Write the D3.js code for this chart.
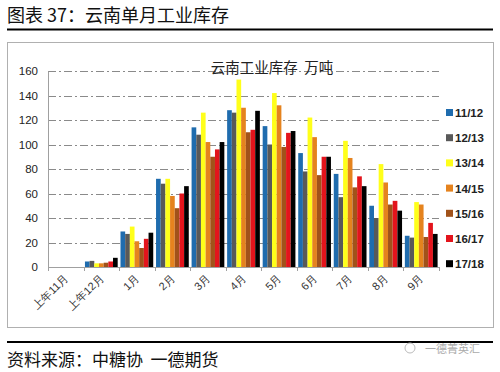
<!DOCTYPE html>
<html>
<head>
<meta charset="utf-8">
<script src="https://d3js.org/d3.v7.min.js"></script>
<style>
body { margin: 0; background: #fff; }
svg { font-family: "Noto Sans CJK SC", "Liberation Sans", sans-serif; }
</style>
</head>
<body>
<div id="chart"></div>
<script>
// categories and series
var months = ["上年11月", "上年12月", "1月", "2月", "3月", "4月", "5月", "6月", "7月", "8月", "9月"];
var seasons = ["11/12", "12/13", "13/14", "14/15", "15/16", "16/17", "17/18"];
var colors = ["#1f6cae", "#595959", "#ffff1a", "#e5831e", "#a1521a", "#e3141c", "#000000"];

var s1112 = [0, 4.5, 29, 72, 114, 128, 115, 93, 76, 50, 25.5];
var s1213 = [0, 5, 27, 68, 108, 126, 100, 78, 57, 40, 24];
var s1314 = [0, 3, 33, 72, 126, 153, 142, 122, 103, 84, 53];
var s1415 = [0, 3, 21, 58, 102, 130, 132, 106, 89, 69, 51];
var s1516 = [0, 3.5, 15.5, 48, 90, 110, 98, 75, 65, 51, 24.5];
var s1617 = [0, 4.5, 23, 60, 96, 112, 109.5, 90, 74, 54, 36];
var s1718 = [0, 7.5, 28, 66, 102, 127.5, 111, 90, 66, 46, 27];
var series = [s1112, s1213, s1314, s1415, s1516, s1617, s1718];

var yTicks = [0, 20, 40, 60, 80, 100, 120, 140, 160];

var W = 500, H = 372;
var svg = d3.select("#chart").append("svg")
    .attr("width", W)
    .attr("height", H);

// page title
svg.append("text")
    .attr("x", 7).attr("y", 22)
    .attr("font-size", 18)
    .attr("fill", "#111")
    .text("图表 37：云南单月工业库存");
svg.append("line")
    .attr("x1", 7).attr("x2", 493).attr("y1", 29.5).attr("y2", 29.5)
    .attr("stroke", "#000").attr("stroke-width", 2);

// chart box
svg.append("rect")
    .attr("x", 7.5).attr("y", 42.5).attr("width", 486).attr("height", 285)
    .attr("fill", "none").attr("stroke", "#b0b0b0").attr("stroke-width", 1);

var plotLeft = 48, plotRight = 439, plotTop = 71, plotBottom = 267;

var x = d3.scaleBand().domain(months).range([plotLeft, plotRight]).paddingInner(0).paddingOuter(0);
var x1 = d3.scaleBand().domain(seasons).range([0, x.bandwidth()]).paddingOuter(0.3).paddingInner(0);
var y = d3.scaleLinear().domain([0, 160]).range([plotBottom, plotTop]);

// gridlines
svg.append("g").selectAll("line")
    .data(yTicks.slice(1))
    .enter().append("line")
    .attr("x1", plotLeft).attr("x2", plotRight)
    .attr("y1", function (d) { return Math.round(y(d)) + 0.5; })
    .attr("y2", function (d) { return Math.round(y(d)) + 0.5; })
    .attr("stroke", "#8a8a8a")
    .attr("stroke-dasharray", "8,3,2,3");

// y axis
var yAxis = svg.append("g")
    .attr("transform", "translate(" + plotLeft + ",0)")
    .call(d3.axisLeft(y).tickValues(yTicks).tickSize(0).tickPadding(10));
yAxis.select(".domain").attr("stroke", "#a0a0a0");
yAxis.selectAll("text").attr("font-size", 11.5).attr("fill", "#222")
    .attr("font-family", "Liberation Sans, Arial, sans-serif");

// bars
series.forEach(function (vals, i) {
    svg.append("g").selectAll("rect")
        .data(vals)
        .enter().append("rect")
        .attr("x", function (d, j) { return x(months[j]) + x1(seasons[i]); })
        .attr("width", x1.bandwidth())
        .attr("y", function (d) { return y(d); })
        .attr("height", function (d) { return plotBottom - y(d); })
        .attr("fill", colors[i]);
});

// x axis
var xAxis = svg.append("g")
    .attr("transform", "translate(0," + plotBottom + ")")
    .call(d3.axisBottom(x).tickSize(0).tickPadding(0));
xAxis.select(".domain").attr("stroke", "#a0a0a0");
xAxis.selectAll("text")
    .attr("font-size", 11)
    .attr("fill", "#333")
    .attr("text-anchor", "end")
    .attr("dy", 0)
    .attr("transform", "translate(3,12) rotate(-45)");
// separator ticks between categories
svg.append("g").selectAll("line")
    .data(months.concat(["end"]))
    .enter().append("line")
    .attr("x1", function (d, j) { return Math.round(plotLeft + j * x.bandwidth()) + 0.5; })
    .attr("x2", function (d, j) { return Math.round(plotLeft + j * x.bandwidth()) + 0.5; })
    .attr("y1", plotBottom).attr("y2", plotBottom + 4)
    .attr("stroke", "#a0a0a0");

// chart title
svg.append("text")
    .attr("x", 272).attr("y", 73)
    .attr("text-anchor", "middle")
    .attr("font-size", 14.5)
    .attr("fill", "#222")
    .attr("xml:space", "preserve")
    .text("云南工业库存  万吨");

// legend
var legend = svg.append("g").selectAll("g")
    .data(seasons)
    .enter().append("g")
    .attr("transform", function (d, i) { return "translate(446," + (113 + i * 25.2) + ")"; });
legend.append("rect")
    .attr("x", 0).attr("y", -4).attr("width", 7).attr("height", 7)
    .attr("fill", function (d, i) { return colors[i]; });
legend.append("text")
    .attr("x", 9).attr("y", 4)
    .attr("font-size", 11.5)
    .attr("font-weight", "bold")
    .attr("fill", "#222")
    .attr("font-family", "Liberation Sans, Arial, sans-serif")
    .text(function (d) { return d; });

// footer
svg.append("line")
    .attr("x1", 7).attr("x2", 493).attr("y1", 342).attr("y2", 342)
    .attr("stroke", "#000").attr("stroke-width", 2);
svg.append("text")
    .attr("x", 7).attr("y", 366)
    .attr("font-size", 17)
    .attr("fill", "#111")
    .attr("xml:space", "preserve")
    .text("资料来源：中糖协  一德期货");
svg.append("text")
    .attr("x", 425).attr("y", 353)
    .attr("font-size", 11)
    .attr("fill", "#aaa")
    .text("一德菁英汇");
svg.append("circle")
    .attr("cx", 410).attr("cy", 348).attr("r", 5)
    .attr("fill", "none").attr("stroke", "#bbb");
</script>
</body>
</html>
